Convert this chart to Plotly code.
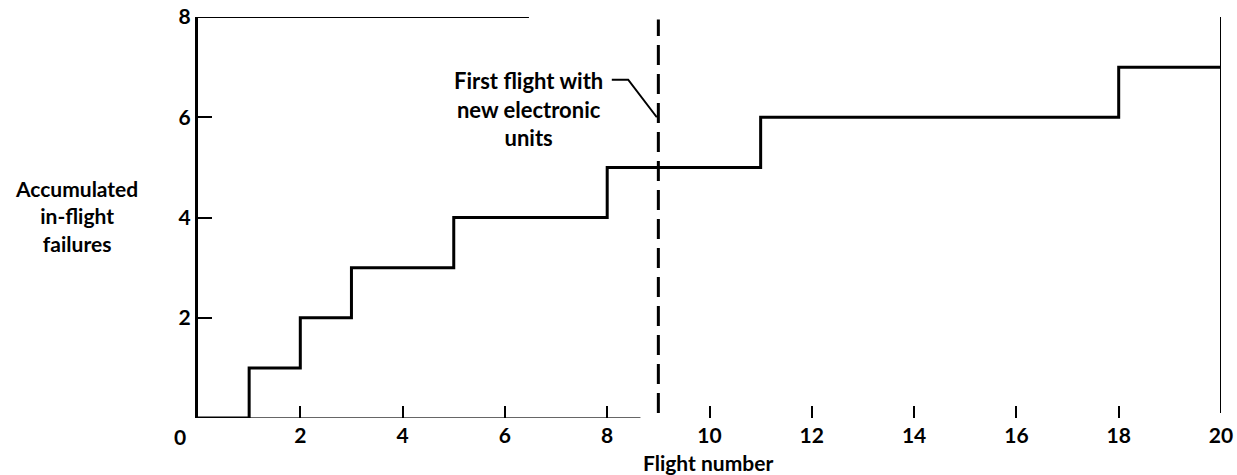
import plotly.graph_objects as go

# Data
flight = [0, 1, 2, 3, 5, 8, 11, 18, 20]
failures = [0, 1, 2, 3, 4, 5, 6, 7, 7]
x_ticks = [2, 4, 6, 8, 10, 12, 14, 16, 18, 20]
y_ticks = [2, 4, 6, 8]
new_units_flight = 9

FONT = "Lato"
bold = dict(family=FONT, size=21, color="black", weight="bold")
bold_note = dict(family=FONT, size=22, color="black", weight="bold")

fig = go.Figure()

fig.add_trace(go.Scatter(x=flight, y=failures, mode="lines", line_shape="hv",
                         line=dict(color="black", width=3), hoverinfo="skip",
                         showlegend=False))

# frame pieces
fig.add_shape(type="line", x0=0, x1=6.47, y0=8, y1=8, line=dict(color="black", width=2), layer="above")
fig.add_shape(type="line", x0=20, x1=20, y0=0.1, y1=8, line=dict(color="black", width=2), layer="above")
fig.add_shape(type="line", x0=0, x1=8.65, y0=0, y1=0, line=dict(color="#333", width=1.5), layer="below")
# dashed line
fig.add_shape(type="line", x0=new_units_flight, x1=new_units_flight, y0=0.1, y1=7.95,
              line=dict(color="black", width=3, dash="20px,9px"))
# leader
fig.add_shape(type="path", path="M 8.09,6.75 L 8.41,6.75 L 8.97,6.0",
              line=dict(color="black", width=2))

fig.add_annotation(x=6.47, y=6.17, xref="x", yref="y",
                   text="First flight with<br>new electronic<br>units",
                   showarrow=False, align="center", font=bold_note)
fig.add_annotation(x=-0.119, y=0.504, xref="paper", yref="paper",
                   text="Accumulated<br>in-flight<br>failures", showarrow=False, align="center",
                   xanchor="center", yanchor="middle", font=bold)
fig.add_annotation(x=-0.0176, y=-0.045, xref="paper", yref="paper", text="0", showarrow=False,
                   xanchor="center", yanchor="middle", font=bold)
fig.add_annotation(x=0.4985, y=-0.112, xref="paper", yref="paper", text="Flight number", showarrow=False,
                   xanchor="center", yanchor="middle", font=bold)

fig.update_xaxes(range=[0, 20], tickvals=x_ticks, ticktext=[str(v) for v in x_ticks],
                 ticks="inside", ticklen=12, tickwidth=2, tickcolor="black",
                 showgrid=False, zeroline=False, showline=False, automargin=False,
                 ticklabelstandoff=3, tickfont=bold)
fig.update_yaxes(range=[0, 8], tickvals=y_ticks, ticktext=[str(v) for v in y_ticks],
                 ticks="inside", ticklen=14, tickwidth=2, tickcolor="black",
                 showgrid=False, zeroline=False, showline=True, linewidth=3, linecolor="black",
                 automargin=False, tickfont=bold)

fig.update_layout(width=1237, height=475, plot_bgcolor="white", paper_bgcolor="white",
                  margin=dict(l=198, r=16, t=17, b=57), showlegend=False)

fig.write_html("out.html", config={"displayModeBar": False},
               post_script="document.body.style.margin='0';document.body.style.overflow='hidden';")
